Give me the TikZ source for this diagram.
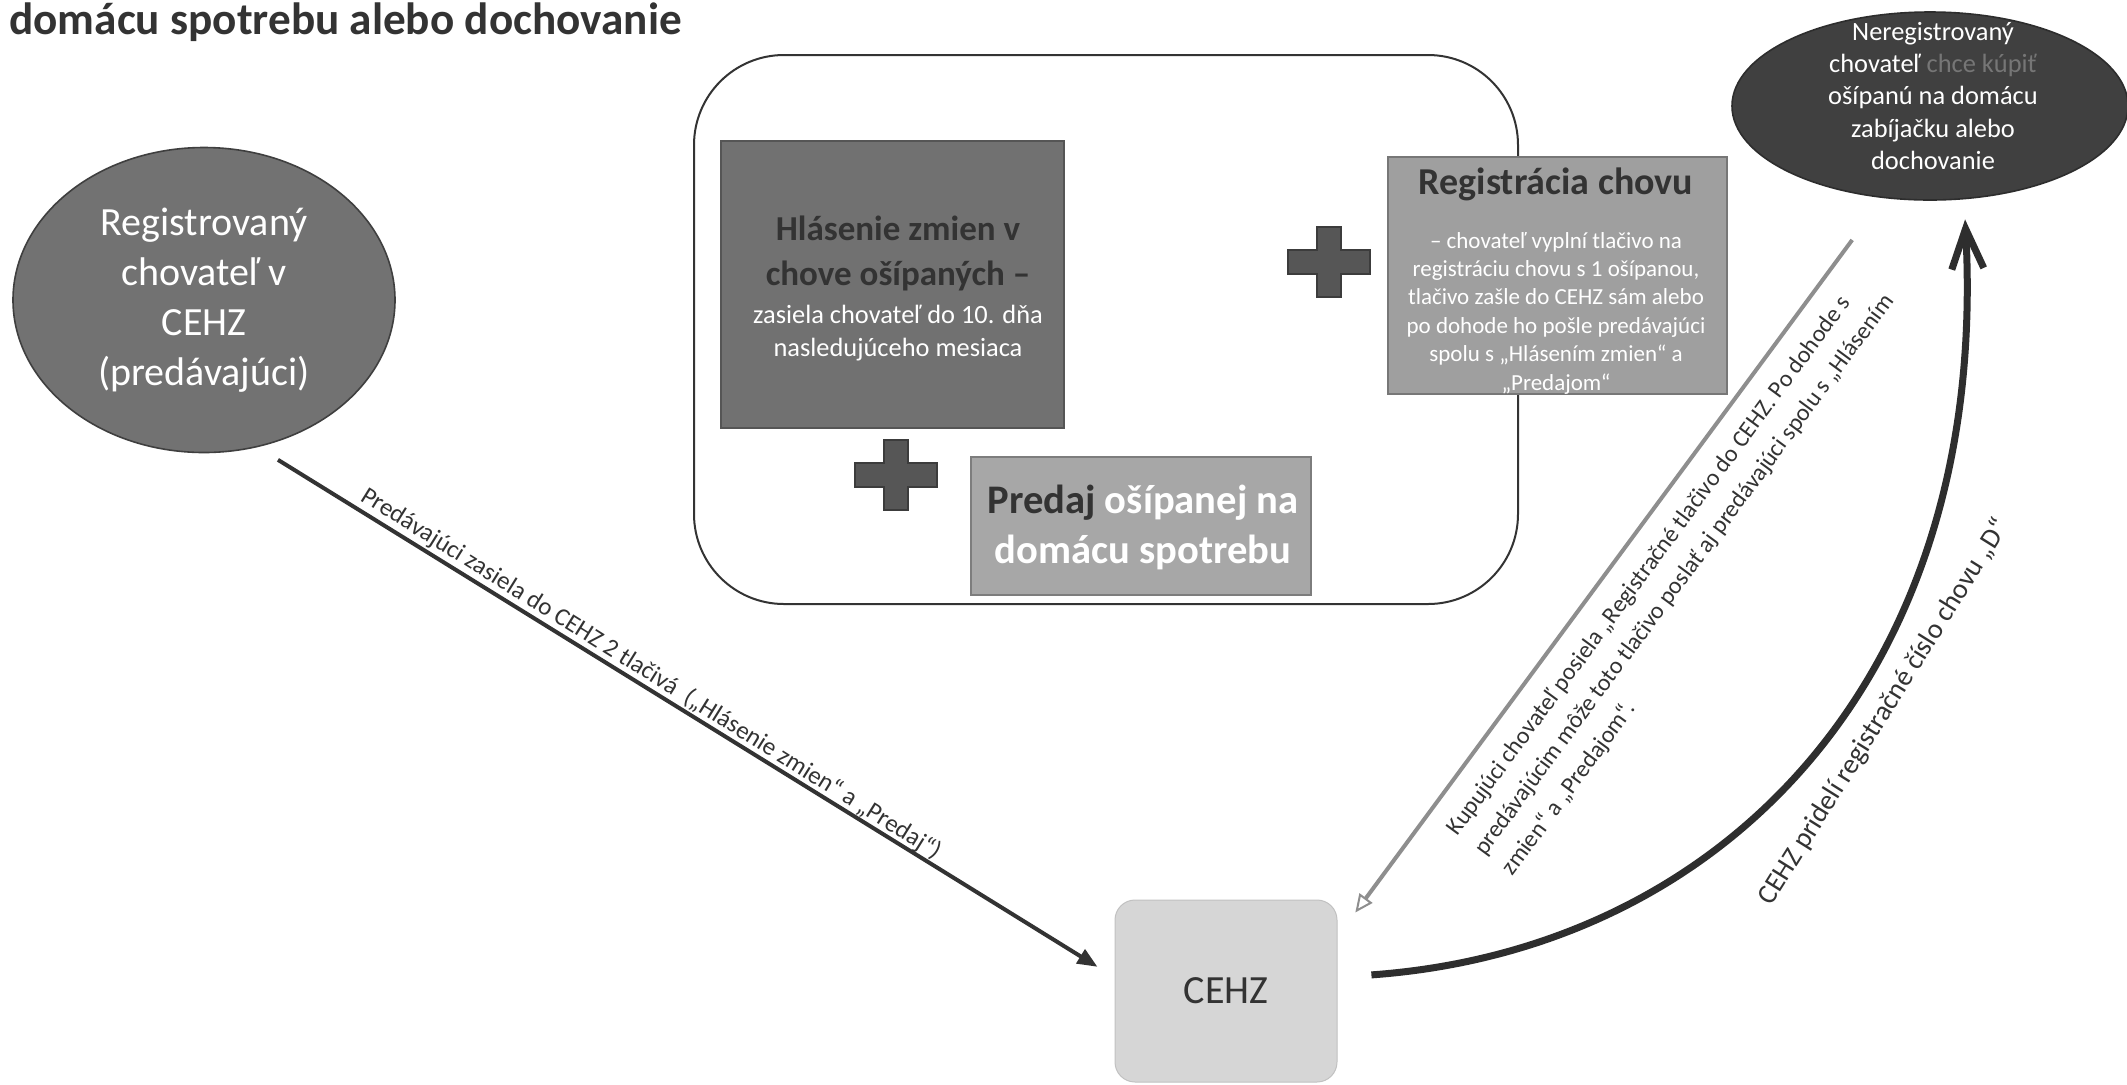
\documentclass[tikz,border=0pt]{standalone}
\usepackage{fontspec}
\setmainfont{Carlito}
\usetikzlibrary{arrows.meta,shapes.geometric}
\definecolor{inkc}{HTML}{333333}
\definecolor{ellL}{HTML}{727272}
\definecolor{ellR}{HTML}{404040}
\definecolor{hlc}{HTML}{717171}
\definecolor{regc}{HTML}{9F9F9F}
\definecolor{prc}{HTML}{A7A7A7}
\definecolor{cehzc}{HTML}{D6D6D6}
\definecolor{plusc}{HTML}{565656}
\definecolor{greyarr}{HTML}{8E8E8E}
\definecolor{faintc}{HTML}{767676}
\tikzset{
  txt/.style={inner sep=0pt, align=center},
  boxst/.style={rectangle, draw=#1!75!black, line width=0.6pt, fill=#1, inner sep=0pt},
  lbl/.style={inner sep=0pt, text=inkc, font=\fontsize{12}{17}\selectfont},
  plusmark/.pic={\fill[plusc, draw=plusc!70!black, line width=0.6pt]
     (-12,-35) -- (12,-35) -- (12,-12) -- (41,-12) -- (41,12) -- (12,12) -- (12,35)
     -- (-12,35) -- (-12,12) -- (-41,12) -- (-41,-12) -- (-12,-12) -- cycle;}
}
\begin{document}
\begin{tikzpicture}[x=0.5pt,y=-0.5pt]
\fill[white] (0,0) rectangle (2127,1084);
\useasboundingbox (0,0) rectangle (2127,1084);

% title
\node[inner sep=0pt, anchor=base west, text=inkc, font=\bfseries\fontsize{22.6}{27}\selectfont] (title) at (9,34) {domácu spotrebu alebo dochovanie};

% container
\node[draw=inkc, line width=1pt, rounded corners=45pt, minimum width=412pt, minimum height=274.5pt] (grp) at (1106,329.5) {};

% boxes
\node[boxst=hlc, minimum width=171.5pt, minimum height=143.5pt] (hl) at (892.5,284.5) {};
\node[txt, text=inkc, font=\bfseries\fontsize{17.5}{22.5}\selectfont] (hlA) at (898,253) {Hlásenie zmien v\\chove ošípaných –};
\node[txt, text=white, font=\fontsize{13.2}{16.2}\selectfont] (hlB) at (898,333) {zasiela chovateľ do 10. dňa\\nasledujúceho mesiaca};

\node[boxst=regc, minimum width=169.5pt, minimum height=118.5pt] (reg) at (1557.5,275.5) {};
\node[txt, text=inkc, font=\bfseries\fontsize{19}{23.5}\selectfont] (regA) at (1556,184) {Registrácia chovu};
\node[txt, text=white, font=\fontsize{11.5}{14.2}\selectfont] (regB) at (1556,313) {– chovateľ vyplní tlačivo na\\registráciu chovu s 1 ošípanou,\\tlačivo zašle do CEHZ sám alebo\\po dohode ho pošle predávajúci\\spolu s „Hlásením zmien“ a\\„Predajom“};

\node[boxst=prc, minimum width=170pt, minimum height=69pt] (pr) at (1141,526) {};
\node[txt, text=white, font=\bfseries\fontsize{20.3}{25}\selectfont] (prA) at (1143,527) {{\color{inkc}Predaj} ošípanej na\\domácu spotrebu};

% plus signs
\pic at (1329,262) {plusmark};
\pic at (896,475) {plusmark};

% ellipses
\node[ellipse, draw=ellL!55!black, line width=0.8pt, fill=ellL, minimum width=191pt, minimum height=152.5pt, inner sep=0pt, text=white, align=center, font=\fontsize{20}{25}\selectfont] (lell) at (204,300) {Registrovaný\\chovateľ v\\CEHZ\\(predávajúci)};

\node[ellipse, draw=ellR!70!black, line width=0.8pt, fill=ellR, minimum width=198pt, minimum height=94pt, inner sep=0pt] (rell) at (1930,106) {};
\node[txt, text=white, font=\fontsize{13.2}{16.2}\selectfont] (rtxt) at (1933,96) {Neregistrovaný\\chovateľ {\color{faintc}chce kúpiť}\\ošípanú na domácu\\zabíjačku alebo\\dochovanie};

% CEHZ
\node[draw=cehzc!90!black, line width=0.5pt, fill=cehzc, rounded corners=10pt, minimum width=111pt, minimum height=91pt, inner sep=0pt, text=inkc, font=\fontsize{20}{24}\selectfont] (cehz) at (1226,991) {CEHZ};

% connectors
\draw[draw=inkc, line width=2pt, shorten <=12pt, shorten >=10pt, -{Triangle[length=10pt,width=8pt]}] (lell.-70) -- (cehz.173);
\draw[draw=greyarr, line width=2pt, shorten <=26pt, shorten >=15pt, -{Triangle[open,length=9pt,width=8pt,line width=1pt]}] (rell.-117) -- (cehz.26);
\draw[draw=inkc!90!black, line width=3.5pt, shorten <=17pt, shorten >=10pt, -{Straight Barb[length=20pt,width=16pt]}] (cehz.7) .. controls (1720,950) and (1990,680) .. (rell.-70);

% labels
\node[lbl, rotate=-32, font=\fontsize{12.5}{17}\selectfont] (lblA) at (651,674) {Predávajúci zasiela do CEHZ 2 tlačivá \ („Hlásenie zmien“ a „Predaj“)};
\node[lbl, rotate=53.6, anchor=west, align=left] (lblB) at (1480,853) {Kupujúci chovateľ posiela „Registračné tlačivo do CEHZ. Po dohode s\\predávajúcim môže toto tlačivo poslať aj predávajúci spolu s „Hlásením\\zmien“ a „Predajom“.};
\node[lbl, rotate=58, font=\fontsize{14}{17}\selectfont] (lblC) at (1884,712) {CEHZ pridelí registračné číslo chovu „D“};
\end{tikzpicture}
\end{document}
